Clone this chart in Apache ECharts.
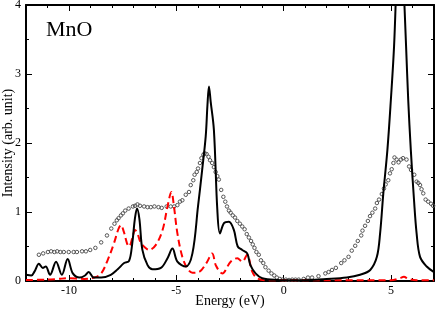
<!DOCTYPE html>
<html><head><meta charset="utf-8">
<script src="https://cdn.jsdelivr.net/npm/echarts@6/dist/echarts.min.js"></script>
<style>html,body{margin:0;padding:0;background:#fff}#c{width:436px;height:310px}</style>
</head><body><div id="c"></div>
<script>
var xTickLabels = [-10, -5, 0, 5];
var yTickLabels = [0, 1, 2, 3, 4];

var blackE = [-12.0,-11.75,-11.6,-11.4,-11.22,-11.08,-10.88,-10.6,-10.33,-10.06,-9.82,-9.5,-9.25,-9.08,-8.85,-8.5,-8.05,-7.73,-7.43,-7.2,-7.05,-6.93,-6.83,-6.72,-6.58,-6.34,-6.11,-5.72,-5.41,-5.18,-4.95,-4.56,-4.25,-3.99,-3.8,-3.63,-3.55,-3.48,-3.4,-3.25,-3.09,-2.97,-2.78,-2.55,-2.32,-2.14,-1.93,-1.7,-1.55,-1.31,-1.0,-0.3,0.5,2.0,2.94,3.56,4.03,4.34,4.49,4.64,4.83,4.99,5.14,5.26,5.42,5.57,5.7,5.8,5.92,6.07,6.19,6.35,6.66,7.0];
var blackI = [0.09,0.08,0.14,0.25,0.19,0.21,0.09,0.28,0.09,0.32,0.11,0.05,0.08,0.13,0.05,0.05,0.09,0.17,0.26,0.29,0.55,0.9,1.05,0.9,0.45,0.23,0.17,0.19,0.33,0.47,0.28,0.21,0.40,1.08,1.6,2.1,2.55,2.82,2.6,2.19,1.03,0.69,0.84,0.86,0.74,0.50,0.45,0.40,0.23,0.11,0.04,0.015,0.01,0.03,0.05,0.09,0.16,0.35,0.69,1.27,1.90,2.62,3.4,4.4,5.4,4.4,3.4,2.62,1.9,1.17,0.69,0.35,0.21,0.13];

var redE = [-12.0,-11.0,-10.5,-10.06,-9.3,-8.82,-8.5,-8.2,-7.9,-7.7,-7.58,-7.45,-7.3,-7.2,-7.05,-6.92,-6.8,-6.65,-6.4,-6.27,-5.96,-5.64,-5.41,-5.23,-5.11,-4.95,-4.72,-4.48,-4.25,-3.95,-3.6,-3.33,-3.15,-2.86,-2.47,-2.16,-1.93,-1.7,-1.47,-1.23,-0.8,5.0,5.4,5.6,5.8,6.2,7.0];
var redI = [0.015,0.02,0.03,0.04,0.03,0.05,0.11,0.30,0.55,0.75,0.81,0.72,0.55,0.50,0.62,0.74,0.68,0.55,0.47,0.45,0.52,0.74,1.08,1.29,1.08,0.69,0.35,0.18,0.12,0.13,0.26,0.40,0.22,0.11,0.28,0.33,0.28,0.38,0.14,0.04,0.01,0.01,0.04,0.06,0.03,0.01,0.01];

var expE = [-11.40,-11.20,-10.98,-10.83,-10.68,-10.55,-10.40,-10.24,-10.01,-9.78,-9.63,-9.39,-9.21,-9.01,-8.77,-8.50,-8.23,-8.03,-7.88,-7.77,-7.69,-7.58,-7.49,-7.38,-7.22,-7.02,-6.92,-6.81,-6.69,-6.50,-6.34,-6.19,-6.02,-5.83,-5.68,-5.45,-5.26,-5.10,-4.95,-4.83,-4.72,-4.56,-4.41,-4.33,-4.21,-4.15,-4.05,-3.99,-3.90,-3.83,-3.74,-3.68,-3.59,-3.50,-3.43,-3.33,-3.25,-3.17,-3.09,-3.02,-2.91,-2.81,-2.72,-2.64,-2.55,-2.47,-2.37,-2.27,-2.16,-2.04,-1.93,-1.82,-1.72,-1.62,-1.52,-1.44,-1.36,-1.27,-1.16,-1.06,-0.95,-0.85,-0.70,-0.57,-0.44,-0.32,-0.18,-0.05,0.10,0.25,0.40,0.55,0.70,0.93,1.13,1.32,1.62,1.94,2.09,2.25,2.43,2.68,2.83,3.02,3.17,3.33,3.45,3.61,3.67,3.79,3.92,4.02,4.13,4.26,4.34,4.44,4.57,4.67,4.75,4.87,4.95,5.03,5.11,5.16,5.26,5.35,5.46,5.56,5.72,5.84,5.93,6.08,6.19,6.27,6.35,6.42,6.50,6.61,6.73,6.86,6.96];
var expI = [0.38,0.40,0.42,0.43,0.42,0.43,0.42,0.42,0.42,0.42,0.42,0.43,0.43,0.45,0.48,0.56,0.66,0.76,0.83,0.88,0.91,0.95,0.98,1.02,1.05,1.08,1.09,1.11,1.09,1.08,1.07,1.07,1.08,1.07,1.06,1.08,1.08,1.08,1.10,1.15,1.17,1.25,1.29,1.39,1.46,1.54,1.58,1.63,1.71,1.78,1.83,1.85,1.84,1.80,1.75,1.71,1.65,1.58,1.52,1.47,1.32,1.22,1.15,1.08,1.02,0.99,0.95,0.92,0.87,0.83,0.79,0.75,0.68,0.63,0.58,0.53,0.48,0.42,0.38,0.30,0.26,0.20,0.15,0.11,0.08,0.05,0.03,0.02,0.02,0.015,0.02,0.02,0.02,0.03,0.05,0.05,0.07,0.11,0.13,0.16,0.19,0.26,0.30,0.35,0.44,0.51,0.58,0.66,0.73,0.80,0.87,0.94,0.99,1.05,1.13,1.18,1.26,1.34,1.40,1.46,1.56,1.62,1.71,1.79,1.76,1.72,1.76,1.78,1.76,1.66,1.61,1.54,1.44,1.42,1.39,1.33,1.27,1.18,1.15,1.12,1.09];

function zip(a, b) { return a.map(function (v, i) { return [v, b[i]]; }); }

var FONT = 'Liberation Serif';
var chart = echarts.init(document.getElementById('c'), null, {renderer: 'canvas'});
var axisLine = {show: true, onZero: false, lineStyle: {color: '#000', width: 2}};
function xAx(pos, major, showLabel, name) {
  var o = {
    type: 'value', min: -12, max: 7, position: pos,
    axisLine: major ? axisLine : {show: false, onZero: false},
    splitLine: {show: false},
    axisTick: {show: true, inside: true, length: major ? 6 : 3, lineStyle: {color: '#000', width: 1}},
    axisLabel: {show: false}
  };
  if (major) {
    o.axisTick.customValues = xTickLabels;
    o.axisLabel = {show: showLabel, customValues: xTickLabels, margin: 4, color: '#000', fontFamily: FONT, fontSize: 12};
  } else {
    o.interval = 1;
  }
  if (name) {
    o.name = name; o.nameLocation = 'middle'; o.nameGap = 13; o.nameMoveOverlap = false;
    o.nameTextStyle = {color: '#000', fontFamily: FONT, fontSize: 14};
  }
  return o;
}
function yAx(pos, showLabel, name) {
  var o = {
    type: 'value', min: 0, max: 4, interval: 1, position: pos,
    axisLine: axisLine, splitLine: {show: false},
    axisTick: {show: true, inside: true, length: 6, lineStyle: {color: '#000', width: 1}},
    minorTick: {show: true, splitNumber: 2, length: 3, lineStyle: {color: '#000', width: 1}},
    minorSplitLine: {show: false},
    axisLabel: {show: showLabel, margin: 5, color: '#000', fontFamily: FONT, fontSize: 12,
      formatter: function (v) { return yTickLabels.indexOf(v) >= 0 ? String(v) : ''; }}
  };
  if (name) {
    o.name = name; o.nameLocation = 'middle'; o.nameGap = 11; o.nameRotate = 90; o.nameMoveOverlap = false;
    o.nameTextStyle = {color: '#000', fontFamily: FONT, fontSize: 14};
  }
  return o;
}

chart.setOption({
  animation: false,
  backgroundColor: '#fff',
  grid: {left: 26, right: 2, top: 5, bottom: 29, containLabel: false, outerBoundsMode: 'none'},
  xAxis: [
    xAx('bottom', true, true, 'Energy (eV)'),
    xAx('bottom', false, false),
    xAx('top', true, false),
    xAx('top', false, false)
  ],
  yAxis: [
    yAx('left', true, 'Intensity (arb. unit)'),
    yAx('right', false)
  ],
  graphic: [{type: 'text', left: 46, top: 19, style: {text: 'MnO', font: '22px "Liberation Serif"', fill: '#000'}}],
  series: [
    {type: 'line', xAxisIndex: 0, yAxisIndex: 0, data: zip(expE, expI), symbol: 'circle', symbolSize: 3.5,
     showSymbol: true, showAllSymbol: true, lineStyle: {width: 0, opacity: 0},
     itemStyle: {color: 'rgba(0,0,0,0)', borderColor: '#555', borderWidth: 1}, z: 2},
    {type: 'line', xAxisIndex: 0, yAxisIndex: 0, data: zip(redE, redI), symbol: 'none', smooth: 0.35,
     lineStyle: {color: '#ff0000', width: 2, type: [7, 4]}, z: 3},
    {type: 'line', xAxisIndex: 0, yAxisIndex: 0, data: zip(blackE, blackI), symbol: 'none', smooth: 0.35,
     lineStyle: {color: '#000', width: 2}, z: 4, clip: true}
  ]
});
</script></body></html>
